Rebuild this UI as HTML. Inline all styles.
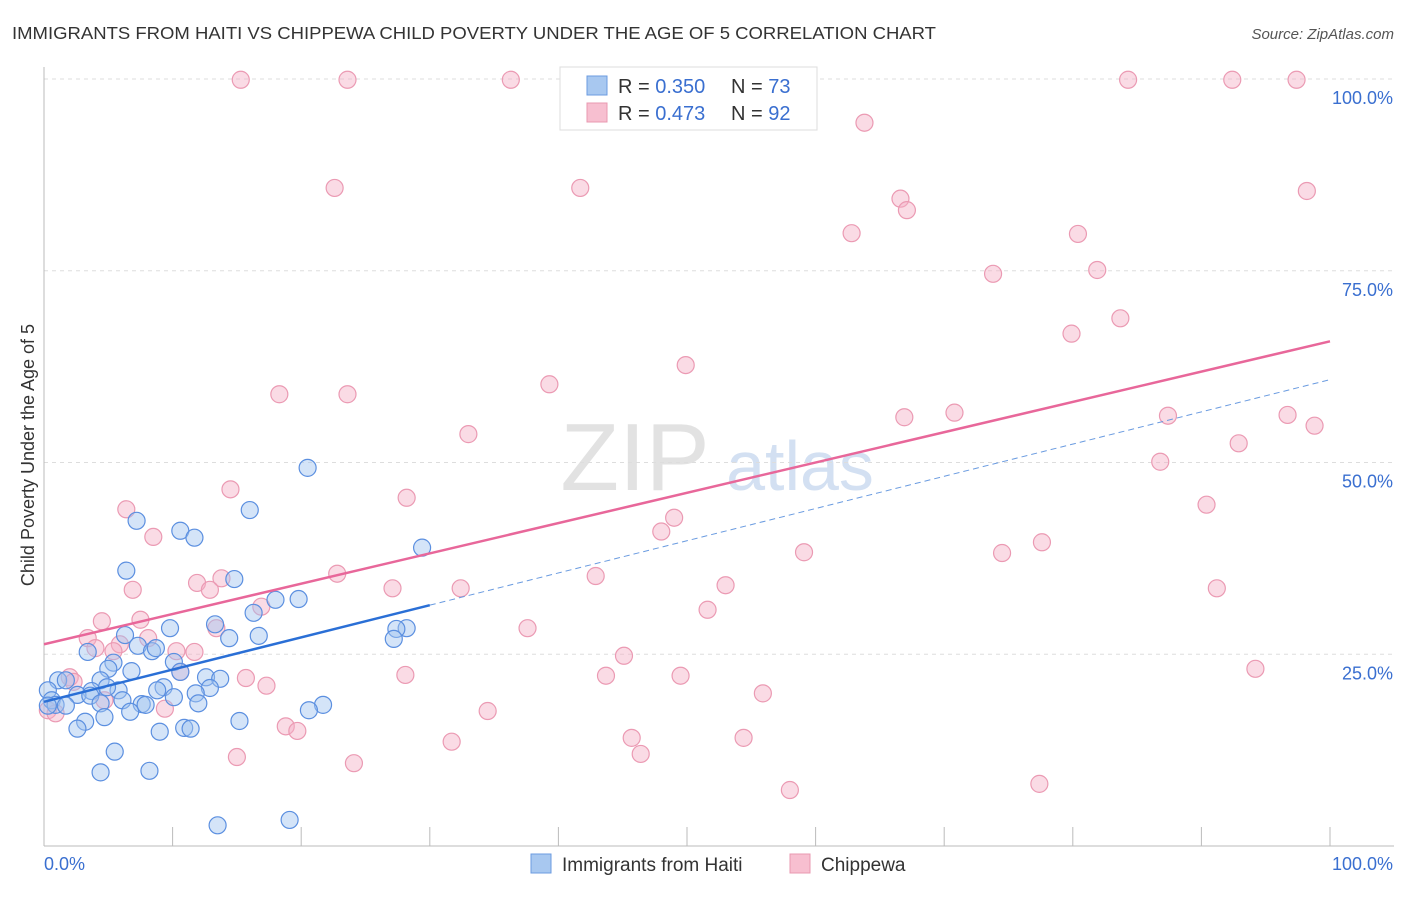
<!DOCTYPE html>
<html><head><meta charset="utf-8"><style>
body{margin:0;background:#fff;font-family:"Liberation Sans",sans-serif}
svg text{font-family:"Liberation Sans",sans-serif}
</style></head><body>
<svg id="c" width="1406" height="892" viewBox="0 0 1406 892" xmlns="http://www.w3.org/2000/svg">
<text x="12" y="39" font-size="17.5" fill="#333" textLength="924" lengthAdjust="spacingAndGlyphs">IMMIGRANTS FROM HAITI VS CHIPPEWA CHILD POVERTY UNDER THE AGE OF 5 CORRELATION CHART</text>
<text x="1394" y="39" font-size="15" fill="#555" font-style="italic" text-anchor="end">Source: ZipAtlas.com</text>
<g><text x="635" y="490" font-size="96" fill="#e2e2e2" text-anchor="middle" font-family="Liberation Serif">ZIP</text><text x="800" y="490" font-size="70" fill="#d3e0f2" text-anchor="middle">atlas</text></g>
<g id="grid"></g><g id="axes"></g><g id="pts"></g><g id="lines"></g>
<text transform="translate(34,455) rotate(-90)" font-size="18" fill="#333" text-anchor="middle">Child Poverty Under the Age of 5</text>
<g>
<rect x="560" y="67" width="257" height="63" fill="#fff" stroke="#ddd"/>
<rect x="587" y="76" width="20" height="19" fill="#a8c8f0" stroke="#6b9be0"/>
<rect x="587" y="103" width="20" height="19" fill="#f7bfd0" stroke="#e898b0"/>
<text x="618" y="93" font-size="20" fill="#333">R = <tspan fill="#3a6fd0">0.350</tspan></text>
<text x="731" y="93" font-size="20" fill="#333">N = <tspan fill="#3a6fd0">73</tspan></text>
<text x="618" y="120" font-size="20" fill="#333">R = <tspan fill="#3a6fd0">0.473</tspan></text>
<text x="731" y="120" font-size="20" fill="#333">N = <tspan fill="#3a6fd0">92</tspan></text>
</g>
<g>
<rect x="531" y="854" width="20" height="19" fill="#a8c8f0" stroke="#6b9be0"/>
<text x="562" y="871" font-size="19" fill="#333">Immigrants from Haiti</text>
<rect x="790" y="854" width="20" height="19" fill="#f7bfd0" stroke="#e898b0"/>
<text x="821" y="871" font-size="19" fill="#333">Chippewa</text>
</g>
</svg>
<script>
const yTicks=[25,50,75,100];
const yTickLabels=["25.0%","50.0%","75.0%","100.0%"];
const xTicks=[0,10,20,30,40,50,60,70,80,90,100];
const blueX=[20.5,16.0,7.2,10.6,11.7,29.4,6.4,14.8,18.0,19.8,16.3,9.8,13.3,28.2,27.4,27.2,6.3,14.4,16.7,7.3,8.4,8.7,3.4,10.1,5.4,5.0,6.8,10.6,12.6,13.7,1.1,1.7,4.4,9.3,12.9,8.8,5.8,3.7,4.9,0.3,11.8,10.1,2.6,3.6,6.1,4.4,0.6,0.9,1.7,7.6,7.9,12.0,21.7,20.6,6.7,4.7,3.2,15.2,2.6,10.9,11.4,9.0,5.5,4.4,8.2,13.5,19.1,0.3];
const blueY=[49.3,43.8,42.4,41.1,40.2,38.9,35.9,34.8,32.1,32.2,30.4,28.4,28.9,28.4,28.3,27.0,27.5,27.1,27.4,26.1,25.4,25.8,25.3,24.0,23.9,23.1,22.8,22.7,22.0,21.8,21.6,21.6,21.6,20.7,20.6,20.3,20.3,20.2,20.7,20.3,19.9,19.4,19.7,19.6,19.0,18.6,19.0,18.4,18.3,18.5,18.4,18.6,18.4,17.7,17.5,16.8,16.2,16.3,15.3,15.4,15.3,14.9,12.3,9.6,9.8,2.7,3.4,18.3];
const pinkX=[15.3,23.6,36.3,84.3,92.4,97.4,63.8,22.6,41.7,98.2,66.6,67.1,62.8,80.4,73.8,81.9,83.7,79.9,49.9,39.3,18.3,23.6,70.8,66.9,87.4,96.7,98.8,33.0,92.9,86.8,14.5,28.2,90.4,6.4,49.0,48.0,8.5,77.6,59.1,74.5,22.8,42.9,13.8,11.9,12.9,6.9,27.1,32.4,53.0,91.2,16.9,51.6,4.5,7.5,13.4,37.6,3.4,8.1,5.9,4.0,5.4,10.3,11.7,45.1,10.6,94.2,2.0,15.7,28.1,43.7,49.5,2.3,17.3,55.9,4.7,0.3,9.4,34.5,0.9,18.8,19.7,45.7,54.4,31.7,46.4,15.0,24.1,77.4,58.0];
const pinkY=[99.9,99.9,99.9,99.9,99.9,99.9,94.3,85.8,85.8,85.4,84.4,82.9,79.9,79.8,74.6,75.1,68.8,66.8,62.7,60.2,58.9,58.9,56.5,55.9,56.1,56.2,54.8,53.7,52.5,50.1,46.5,45.4,44.5,43.9,42.8,41.0,40.3,39.6,38.3,38.2,35.5,35.2,34.9,34.3,33.4,33.4,33.6,33.6,34.0,33.6,31.2,30.8,29.3,29.5,28.4,28.4,27.1,27.1,26.3,25.8,25.4,25.4,25.3,24.8,22.7,23.1,22.0,21.9,22.3,22.2,22.2,21.4,20.9,19.9,19.0,17.7,17.9,17.6,17.3,15.6,15.0,14.1,14.1,13.6,12.0,11.6,10.8,8.1,7.3];
const pinkTrend=[26.3,65.8];
const blueTrend=[18.8,60.8];
const blueSolidEnd=30;
const NS="http://www.w3.org/2000/svg";
const X=v=>44+v*12.86, Y=v=>846-v*7.67;
function mk(t,a,p){const e=document.createElementNS(NS,t);for(const k in a)e.setAttribute(k,a[k]);document.getElementById(p).appendChild(e);return e;}
yTicks.forEach((t,i)=>{
 const g=mk('line',{x1:44,x2:1394,y1:Y(t),y2:Y(t),stroke:'#ddd','stroke-dasharray':'4,4'},'grid');
 
 
 const l=mk('text',{x:1393,y:Y(t)+25,'font-size':18,fill:'#3a6fd0','text-anchor':'end'},'axes');
 l.textContent=yTickLabels[i];
 
 
});
let a=mk('line',{x1:44,x2:44,y1:67,y2:846,stroke:'#bbb'},'axes');


a=mk('line',{x1:44,x2:1394,y1:846,y2:846,stroke:'#bbb'},'axes');


xTicks.forEach(t=>{const k=mk('line',{x1:X(t),x2:X(t),y1:827,y2:846,stroke:'#bbb'},'axes');
 
 });
let t=mk('text',{x:44,y:870,'font-size':18,fill:'#3a6fd0'},'axes');t.textContent='0.0%';


t=mk('text',{x:1393,y:870,'font-size':18,fill:'#3a6fd0','text-anchor':'end'},'axes');t.textContent='100.0%';


pinkX.forEach((x,i)=>{const c=mk('circle',{cx:X(x),cy:Y(pinkY[i]),r:8.5,fill:'rgba(245,175,198,0.45)',stroke:'#eb9ab3','stroke-width':1.2},'pts');
 
 });
blueX.forEach((x,i)=>{const c=mk('circle',{cx:X(x),cy:Y(blueY[i]),r:8.5,fill:'rgba(160,195,240,0.45)',stroke:'#5b8fe0','stroke-width':1.2},'pts');
 
 });
let l=mk('line',{x1:X(0),y1:Y(pinkTrend[0]),x2:X(100),y2:Y(pinkTrend[1]),stroke:'#e8679a','stroke-width':2.5},'lines');


const bAt=v=>blueTrend[0]+(blueTrend[1]-blueTrend[0])*v/100;
l=mk('line',{x1:X(0),y1:Y(bAt(0)),x2:X(blueSolidEnd),y2:Y(bAt(blueSolidEnd)),stroke:'#2a6fd6','stroke-width':2.5},'lines');


l=mk('line',{x1:X(blueSolidEnd),y1:Y(bAt(blueSolidEnd)),x2:X(100),y2:Y(bAt(100)),stroke:'#6a9be0','stroke-width':1,'stroke-dasharray':'6,4'},'lines');


</script>
</body></html>
